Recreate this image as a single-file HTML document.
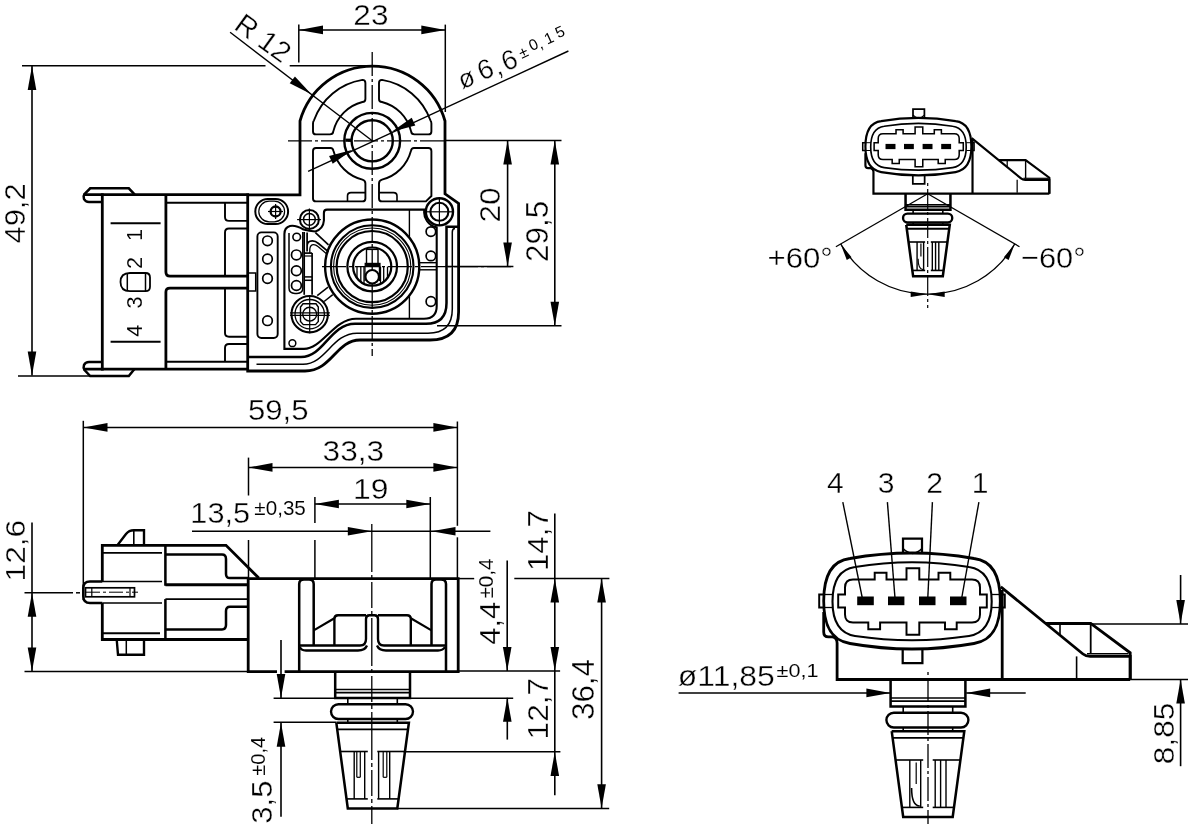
<!DOCTYPE html><html><head><meta charset="utf-8"><style>html,body{margin:0;padding:0;background:#fff;}svg{display:block;will-change:transform;} text{fill:#000;stroke:#fff;}</style></head><body><svg width="1188" height="824" viewBox="0 0 1188 824" font-family="Liberation Sans, sans-serif" stroke="#000" stroke-linecap="butt" fill="none"><rect x="0" y="0" width="1188" height="824" fill="#fff" stroke="none"/><g><line x1="32" y1="66" x2="32" y2="375.5" stroke-width="1.6"/>
<polygon points="32,66 36.3,90 27.7,90" stroke="none" fill="#000"/>
<polygon points="32,375.5 27.7,351.5 36.3,351.5" stroke="none" fill="#000"/>
<line x1="22" y1="65.7" x2="265.5" y2="65.7" stroke-width="1.5"/>
<line x1="289.7" y1="65.7" x2="372" y2="65.7" stroke-width="1.5"/>
<line x1="18" y1="376" x2="92" y2="376" stroke-width="1.5"/>
<g transform="translate(25.1,243.38) rotate(-90) scale(1.03,1)"><text font-size="29.94" stroke-width="0.36">49,2</text></g>
<line x1="299" y1="29.9" x2="445.3" y2="29.9" stroke-width="1.5"/>
<polygon points="299,29.9 323,25.6 323,34.2" stroke="none" fill="#000"/>
<polygon points="445.3,29.9 421.3,34.2 421.3,25.6" stroke="none" fill="#000"/>
<line x1="298.8" y1="24.6" x2="298.8" y2="62.6" stroke-width="1.5"/>
<line x1="445.3" y1="24.6" x2="445.3" y2="112" stroke-width="1.5"/>
<g transform="translate(353.32,25) scale(1.04,1)"><text font-size="30.37" stroke-width="0.36">23</text></g>
<line x1="230.1" y1="32.3" x2="372.2" y2="140.8" stroke-width="1.4"/>
<polygon points="311.4,94.37 289.71,83.23 294.93,76.39" stroke="none" fill="#000"/>
<g transform="translate(232.7,28.2) rotate(35.8) scale(1,1)"><text font-size="28.8" stroke-width="0.35">R 12</text></g>
<line x1="308.1" y1="171.3" x2="568.4" y2="51" stroke-width="1.4"/>
<polygon points="391.72,131.78 411.7,117.81 415.31,125.62" stroke="none" fill="#000"/>
<polygon points="352.68,149.82 332.7,163.79 329.09,155.98" stroke="none" fill="#000"/>
<g transform="translate(466.9,80.1) rotate(-21) scale(1,1)"><text x="-7.93" y="6.84" font-size="26" stroke-width="0.31">ø</text></g>
<g transform="translate(485.3,69.2) rotate(-21) scale(1,1)"><text x="-7.73" y="9.46" font-size="27.5" stroke-width="0.33">6</text></g>
<g transform="translate(500.8,75) rotate(-21) scale(1,1)"><text x="-3.82" y="-0.3" font-size="27.5" stroke-width="0.33">,</text></g>
<g transform="translate(509.4,60) rotate(-21) scale(1,1)"><text x="-7.73" y="9.46" font-size="27.5" stroke-width="0.33">6</text></g>
<g transform="translate(523.6,53.1) rotate(-25) scale(1,1)"><text x="-4.26" y="4.6" font-size="15.5" stroke-width="0">±</text></g>
<g transform="translate(533.4,44.5) rotate(-25) scale(1,1)"><text x="-4.32" y="5.33" font-size="15.5" stroke-width="0">0</text></g>
<g transform="translate(542.2,48.5) rotate(-25) scale(1,1)"><text x="-2.15" y="-0.17" font-size="15.5" stroke-width="0">,</text></g>
<g transform="translate(549.2,38) rotate(-25) scale(1,1)"><text x="-4.53" y="5.33" font-size="15.5" stroke-width="0">1</text></g>
<g transform="translate(560,32) rotate(-25) scale(1,1)"><text x="-4.29" y="5.25" font-size="15.5" stroke-width="0">5</text></g>
<line x1="446" y1="140.6" x2="561.5" y2="140.6" stroke-width="1.5"/>
<line x1="507.6" y1="141" x2="507.6" y2="266.4" stroke-width="1.6"/>
<polygon points="507.6,140.6 511.9,164.6 503.3,164.6" stroke="none" fill="#000"/>
<polygon points="507.6,266.4 503.3,242.4 511.9,242.4" stroke="none" fill="#000"/>
<line x1="445" y1="266.4" x2="513.4" y2="266.4" stroke-width="1.5"/>
<line x1="554.8" y1="141" x2="554.8" y2="325.7" stroke-width="1.6"/>
<polygon points="554.8,140.6 559.1,164.6 550.5,164.6" stroke="none" fill="#000"/>
<polygon points="554.8,325.7 550.5,301.7 559.1,301.7" stroke="none" fill="#000"/>
<line x1="437" y1="325.7" x2="561.5" y2="325.7" stroke-width="1.5"/>
<g transform="translate(500,222.58) rotate(-90) scale(1.06,1)"><text font-size="29.66" stroke-width="0.36">20</text></g>
<g transform="translate(548.1,261.88) rotate(-90) scale(1.03,1)"><text font-size="30.52" stroke-width="0.37">29,5</text></g>
<path d="M247.7,194.8 H300 V121 A75.3,75.3 0 0 1 445,121 V193.8 L458.6,203.4 V312 Q458.6,340 430,340 H360 C336,340 332,371 305,371 H247.7 Z" stroke-width="2.8" fill="none"/>
<path d="M256.5,364.2 H303 C326,364.2 332,333.2 357,333.2 H428 Q452.3,333.2 452.3,309 V232 Q452.3,228.5 455,228.5" stroke-width="1.5" fill="none"/>
<path d="M247.7,357 H301 C324,357 330,323.8 355,323.8 H426 Q446.5,323.8 446.5,303 V226.7 H458.6" stroke-width="2.52" fill="none"/>
<path d="M304,348.9 C322,348.9 334,318.7 356,318.7 H424 Q436.7,318.7 436.7,306 V227.4 A15.5,15.5 0 0 1 424.4,209.6 H327 Q323.9,209.6 323.9,213 V220.5 A12.6,12.6 0 0 1 315.4,231.5 Q309,231 303.5,229.5 Q296,225 290,226 Q284.4,227.5 284.4,234 V348.9 H304" stroke-width="2.1" fill="none"/>
<path d="M362.4,79.9 Q365.4,80 365.4,83 V99 Q365.4,102 362.4,102 A40,40 0 0 0 333.3,131.4 Q333,134.4 330,134.4 H316 Q313,134.4 313,131.4 V123.5 Q313,121.5 314,120.3 A61.7,61.7 0 0 1 362.4,79.9 Z" stroke-width="1.9" fill="none"/>
<path d="M 382,79.9 Q 379,80 379,83 V 99 Q 379,102 382,102 A 40,40 0 0 1 411.1,131.4 Q 411.4,134.4 414.4,134.4 H 428.4 Q 431.4,134.4 431.4,131.4 V 123.5 Q 431.4,121.5 430.4,120.3 A 61.7,61.7 0 0 0 382,79.9 Z" stroke-width="1.9" fill="none"/>
<path d="M316,148 H330.5 Q333,148 333.5,151 A40,40 0 0 0 362.4,179.6 Q365.4,180.5 365.4,183.5 V198.4 Q365.4,201.4 362.4,201.4 H316 Q313,201.4 313,198.4 V151 Q313,148 316,148 Z" stroke-width="1.9" fill="none"/>
<path d="M 428.4,148 H 413.9 Q 411.4,148 410.9,151 A 40,40 0 0 1 382,179.6 Q 379,180.5 379,183.5 V 198.4 Q 379,201.4 382,201.4 H 425.9 L 431.4,196 V 151 Q 431.4,148 428.4,148 Z" stroke-width="1.9" fill="none"/>
<path d="M347.5,201.4 V196 Q347.5,192.6 351,192.6 H365.4" stroke-width="1.6" fill="none"/>
<path d="M379,192.6 H393.5 Q397,192.6 397,196 V201.4" stroke-width="1.6" fill="none"/>
<circle cx="372.2" cy="140.8" r="27.9" stroke-width="2.4" fill="none"/>
<circle cx="372.2" cy="140.8" r="20.6" stroke-width="2.4" fill="none"/>
<rect x="345.3" y="138.6" width="6" height="3.2" rx="0" stroke-width="0" fill="#000" stroke="none"/>
<line x1="372.2" y1="52" x2="372.2" y2="356" stroke-width="1.3" stroke-dasharray="24 3 3 3" stroke-dashoffset="0"/>
<line x1="288" y1="140.8" x2="446" y2="140.8" stroke-width="1.3" stroke-dasharray="24 3 3 3" stroke-dashoffset="0"/>
<line x1="322" y1="266.6" x2="513" y2="266.6" stroke-width="1.3" stroke-dasharray="24 3 3 3" stroke-dashoffset="0"/>
<rect x="255.3" y="199" width="32.8" height="25" rx="12.5" stroke-width="2" fill="none"/>
<rect x="258.8" y="201.2" width="25.8" height="20.6" rx="10.3" stroke-width="1.2" fill="none"/>
<circle cx="275.6" cy="211.5" r="5" stroke-width="2.3" fill="none"/>
<line x1="268" y1="211.5" x2="283" y2="211.5" stroke-width="1.2"/>
<line x1="275.6" y1="204" x2="275.6" y2="219" stroke-width="1.2"/>
<circle cx="309.4" cy="219.4" r="9.5" stroke-width="2" fill="none"/>
<circle cx="309.4" cy="219.4" r="5.9" stroke-width="1.5" fill="none"/>
<line x1="297.1" y1="219.6" x2="320.9" y2="219.6" stroke-width="1.2"/>
<line x1="309.4" y1="208.6" x2="309.4" y2="230.7" stroke-width="1.2"/>
<circle cx="439.4" cy="211.8" r="13.6" stroke-width="2.4" fill="none"/>
<circle cx="439.4" cy="211.8" r="9" stroke-width="2.1" fill="none"/>
<line x1="425.5" y1="211.8" x2="453.5" y2="211.8" stroke-width="1.2"/>
<line x1="439.4" y1="197.5" x2="439.4" y2="226" stroke-width="1.2"/>
<rect x="257.4" y="232.4" width="20.3" height="105.6" rx="4" stroke-width="1.9" fill="none"/>
<circle cx="267.5" cy="240.8" r="4.8" stroke-width="1.7" fill="none"/>
<circle cx="267.5" cy="259" r="4.8" stroke-width="1.7" fill="none"/>
<circle cx="267.5" cy="278.5" r="4.8" stroke-width="1.7" fill="none"/>
<circle cx="267.5" cy="320.7" r="4.8" stroke-width="1.7" fill="none"/>
<path d="M289,233 V288 Q289,293.4 295,293.4 H297 Q302.8,293.4 302.8,288 V232" stroke-width="1.5" fill="none"/>
<circle cx="296.7" cy="237" r="3.8" stroke-width="1.6" fill="none"/>
<circle cx="296.4" cy="254.9" r="4.9" stroke-width="1.7" fill="none"/>
<circle cx="296.4" cy="270.8" r="4.9" stroke-width="1.7" fill="none"/>
<circle cx="296.4" cy="285.5" r="4.9" stroke-width="1.7" fill="none"/>
<line x1="304.2" y1="232" x2="304.2" y2="294.8" stroke-width="1.7"/>
<line x1="312.1" y1="253" x2="312.1" y2="294.8" stroke-width="1.7"/>
<path d="M307.1,232.5 V251.5 M307.1,250 V246 Q307.1,240.8 312.3,240.8 Q315.5,240.8 318.5,243.5 L328.5,251.8" stroke-width="1.7" fill="none"/>
<path d="M309.8,253 V249 Q310.3,244.6 313.6,244.6 Q315.8,244.6 318,246.6 L326.2,253.5" stroke-width="1.3" fill="none"/>
<line x1="315.4" y1="232.7" x2="328.5" y2="244.8" stroke-width="1.7"/>
<line x1="304.2" y1="253.1" x2="312.1" y2="253.1" stroke-width="1.7"/>
<line x1="304.2" y1="256" x2="312.1" y2="256" stroke-width="1.2"/>
<line x1="304.2" y1="276.9" x2="312.1" y2="276.9" stroke-width="1.5"/>
<line x1="304.2" y1="280.3" x2="312.1" y2="280.3" stroke-width="1.5"/>
<circle cx="309.7" cy="314.2" r="18.2" stroke-width="2.1" fill="none"/>
<circle cx="309.7" cy="314.2" r="14.7" stroke-width="1.3" fill="none"/>
<path d="M303,303.8 H316 L318.3,307 V321.5 L315.5,324.6 H303.3 L300.5,321.5 V307 Z" stroke-width="1.4" fill="none"/>
<circle cx="309.7" cy="314.2" r="6.9" stroke-width="1.4" fill="none"/>
<line x1="290.1" y1="312.8" x2="329.9" y2="312.8" stroke-width="1.2"/>
<line x1="290.1" y1="315.3" x2="329.9" y2="315.3" stroke-width="1.2"/>
<line x1="309.7" y1="296.9" x2="309.7" y2="333.2" stroke-width="1.2"/>
<circle cx="292.4" cy="343.2" r="3.4" stroke-width="1.5" fill="none"/>
<line x1="317.2" y1="295.7" x2="328.1" y2="287.1" stroke-width="1.5"/>
<line x1="324.1" y1="301.5" x2="332.8" y2="294.6" stroke-width="1.5"/>
<circle cx="372.2" cy="266.6" r="47.1" stroke-width="2.4" fill="none"/>
<circle cx="372.2" cy="266.6" r="41.3" stroke-width="2.1" fill="none"/>
<circle cx="372.2" cy="266.6" r="38.6" stroke-width="1.1" fill="none"/>
<circle cx="372.2" cy="266.6" r="35.6" stroke-width="2.2" fill="none"/>
<circle cx="372.2" cy="266.6" r="24.8" stroke-width="2.2" fill="none"/>
<circle cx="372.2" cy="266.6" r="19.1" stroke-width="2.2" fill="none"/>
<line x1="357" y1="266.6" x2="357" y2="278.17" stroke-width="1.3"/>
<line x1="360.8" y1="266.6" x2="360.8" y2="281.92" stroke-width="1.3"/>
<line x1="364" y1="266.6" x2="364" y2="283.85" stroke-width="1.3"/>
<line x1="380.5" y1="266.6" x2="380.5" y2="283.8" stroke-width="1.3"/>
<line x1="383.7" y1="266.6" x2="383.7" y2="281.85" stroke-width="1.3"/>
<line x1="387.5" y1="266.6" x2="387.5" y2="278.03" stroke-width="1.3"/>
<rect x="366.5" y="249.4" width="11.5" height="14.6" rx="0" stroke-width="1.4" fill="none"/>
<rect x="365.2" y="263.4" width="14.8" height="3" rx="0" stroke-width="1.2" fill="#000"/>
<circle cx="372.2" cy="276.8" r="6.7" stroke-width="2" fill="#fff"/>
<line x1="365" y1="266.6" x2="365" y2="281" stroke-width="1.2"/>
<line x1="379.4" y1="266.6" x2="379.4" y2="281" stroke-width="1.2"/>
<line x1="409.4" y1="209.3" x2="409.4" y2="238" stroke-width="1.4"/>
<line x1="409.4" y1="295" x2="409.4" y2="318.7" stroke-width="1.4"/>
<line x1="418.5" y1="262.7" x2="436.7" y2="262.7" stroke-width="1.4"/>
<line x1="418.5" y1="269.8" x2="436.7" y2="269.8" stroke-width="1.4"/>
<circle cx="430.9" cy="231.6" r="4.8" stroke-width="1.7" fill="none"/>
<circle cx="430.9" cy="255.9" r="4.8" stroke-width="1.7" fill="none"/>
<circle cx="430.9" cy="301.5" r="4.8" stroke-width="1.7" fill="none"/>
<path d="M134.8,194.6 L128.8,188.3 H90.2 L84.5,194 Q83,196 84,199 Q85.5,202 89,202 H102.3" stroke-width="2.52" fill="none"/>
<path d="M134.3,369.2 L128.8,376 H90.2 L84.5,370 Q83,368 84,365 Q85.5,362 89,362 H102.3" stroke-width="2.52" fill="none"/>
<line x1="83.5" y1="194.7" x2="249" y2="194.7" stroke-width="2.8"/>
<line x1="83.5" y1="369.2" x2="249" y2="369.2" stroke-width="2.8"/>
<line x1="102.3" y1="193.3" x2="102.3" y2="370.6" stroke-width="2.8"/>
<path d="M165.9,194.7 V272 Q165.9,276.2 170,276.2 H247.7" stroke-width="2.8" fill="none"/>
<path d="M247.7,288.2 H170 Q165.9,288.2 165.9,292 V369.2" stroke-width="2.8" fill="none"/>
<line x1="165.9" y1="202.7" x2="247.7" y2="202.7" stroke-width="1.9"/>
<line x1="165.9" y1="361.7" x2="247.7" y2="361.7" stroke-width="1.9"/>
<path d="M247.7,220.9 H229 Q225,220.9 225,217 V202.7" stroke-width="1.9" fill="none"/>
<path d="M247.7,228.5 H229 Q225,228.5 225,232.5 V276.2" stroke-width="1.9" fill="none"/>
<path d="M225,288.2 V333 Q225,336.7 229,336.7 H247.7" stroke-width="1.9" fill="none"/>
<path d="M247.7,344 H229 Q225,344 225,348 V361.7" stroke-width="1.9" fill="none"/>
<line x1="110.6" y1="223.2" x2="160.6" y2="223.2" stroke-width="1.9"/>
<line x1="110.6" y1="341.7" x2="160.6" y2="341.7" stroke-width="1.9"/>
<path d="M130,273 H145.5 Q150,273 150,277.5 V286.7 Q150,291.2 145.5,291.2 H130 Q120.5,291.2 120.5,282.1 Q120.5,273 130,273 Z" stroke-width="1.8" fill="none"/>
<line x1="127.3" y1="273" x2="127.3" y2="291.2" stroke-width="1.5"/>
<line x1="145.5" y1="273" x2="145.5" y2="291.2" stroke-width="1.5"/>
<g transform="translate(142.4,240.99) rotate(-90) scale(1,1)"><text font-size="21.63" stroke-width="0.09">1</text></g>
<g transform="translate(142.4,268.95) rotate(-90) scale(1,1)"><text font-size="21.63" stroke-width="0.09">2</text></g>
<g transform="translate(142.4,308.38) rotate(-90) scale(1,1)"><text font-size="21.63" stroke-width="0.09">3</text></g>
<g transform="translate(142.4,336.68) rotate(-90) scale(1,1)"><text font-size="21.63" stroke-width="0.09">4</text></g>
<rect x="247.7" y="273" width="8" height="18" rx="0" stroke-width="1.5" fill="none"/>
<line x1="83.5" y1="427.4" x2="457.4" y2="427.4" stroke-width="1.5"/>
<polygon points="83.5,427.4 107.5,423.1 107.5,431.7" stroke="none" fill="#000"/>
<polygon points="457.4,427.4 433.4,431.7 433.4,423.1" stroke="none" fill="#000"/>
<line x1="83.3" y1="420.8" x2="83.3" y2="600" stroke-width="1.5"/>
<line x1="457.4" y1="421.5" x2="457.4" y2="525.8" stroke-width="1.5"/>
<line x1="457.4" y1="537.3" x2="457.4" y2="579" stroke-width="1.5"/>
<g transform="translate(247.95,419.8) scale(1.07,1)"><text font-size="29.08" stroke-width="0.35">59,5</text></g>
<line x1="248.5" y1="467.4" x2="457.4" y2="467.4" stroke-width="1.5"/>
<polygon points="248.5,467.4 272.5,463.1 272.5,471.7" stroke="none" fill="#000"/>
<polygon points="457.4,467.4 433.4,471.7 433.4,463.1" stroke="none" fill="#000"/>
<line x1="248.5" y1="457.6" x2="248.5" y2="495.5" stroke-width="1.5"/>
<line x1="248.5" y1="540" x2="248.5" y2="579" stroke-width="1.5"/>
<g transform="translate(322.6,460.9) scale(1.06,1)"><text font-size="29.8" stroke-width="0.36">33,3</text></g>
<line x1="314.9" y1="504" x2="430.3" y2="504" stroke-width="1.5"/>
<polygon points="314.9,504 338.9,499.7 338.9,508.3" stroke="none" fill="#000"/>
<polygon points="430.3,504 406.3,508.3 406.3,499.7" stroke="none" fill="#000"/>
<line x1="314.9" y1="497" x2="314.9" y2="523" stroke-width="1.5"/>
<line x1="314.9" y1="540" x2="314.9" y2="579" stroke-width="1.5"/>
<line x1="430.3" y1="497" x2="430.3" y2="579" stroke-width="1.5"/>
<g transform="translate(353.08,498.6) scale(1.08,1)"><text font-size="29.51" stroke-width="0.35">19</text></g>
<line x1="192" y1="531.3" x2="490.4" y2="531.3" stroke-width="1.5"/>
<polygon points="371.8,531.3 347.8,535.6 347.8,527" stroke="none" fill="#000"/>
<polygon points="431.5,531.3 455.5,527 455.5,535.6" stroke="none" fill="#000"/>
<g transform="translate(190.36,522.9) scale(1.03,1)"><text font-size="29.8" stroke-width="0.36">13,5</text></g>
<g transform="translate(254.34,515.2) scale(1.06,1)"><text font-size="19.48" stroke-width="0.08">±0,35</text></g>
<line x1="371.8" y1="524" x2="371.8" y2="824" stroke-width="1.3" stroke-dasharray="48 3 4 3 26 3 4 3" stroke-dashoffset="0"/>
<line x1="32" y1="522.6" x2="32" y2="671.6" stroke-width="1.6"/>
<polygon points="32,592.8 36.3,616.8 27.7,616.8" stroke="none" fill="#000"/>
<polygon points="32,671.6 27.7,647.6 36.3,647.6" stroke="none" fill="#000"/>
<line x1="24.5" y1="592.8" x2="73" y2="592.8" stroke-width="1.5"/>
<line x1="76" y1="592.8" x2="80" y2="592.8" stroke-width="1.5"/>
<line x1="24.5" y1="671.6" x2="248" y2="671.6" stroke-width="1.5"/>
<g transform="translate(24.6,581.41) rotate(-90) scale(1.14,1)"><text font-size="27.79" stroke-width="0.33">12,6</text></g>
<line x1="281" y1="640" x2="281" y2="698" stroke-width="1.6"/>
<polygon points="281,698 276.7,674 285.3,674" stroke="none" fill="#000"/>
<line x1="281" y1="722.7" x2="281" y2="816.8" stroke-width="1.6"/>
<polygon points="281,722.7 285.3,746.7 276.7,746.7" stroke="none" fill="#000"/>
<line x1="273.6" y1="698.2" x2="513.2" y2="698.2" stroke-width="1.5"/>
<line x1="273.6" y1="722.2" x2="336" y2="722.2" stroke-width="1.5"/>
<g transform="translate(272,823.67) rotate(-90) scale(1.02,1)"><text font-size="30.37" stroke-width="0.36">3,5</text></g>
<g transform="translate(264.5,775.74) rotate(-90) scale(0.99,1)"><text font-size="20.34" stroke-width="0.08">±0,4</text></g>
<line x1="457.4" y1="578.6" x2="474.2" y2="578.6" stroke-width="1.5"/>
<line x1="514.3" y1="578.6" x2="609.4" y2="578.6" stroke-width="1.5"/>
<line x1="458" y1="671" x2="560.1" y2="671" stroke-width="1.5"/>
<line x1="507.2" y1="560.4" x2="507.2" y2="671" stroke-width="1.6"/>
<polygon points="507.2,671 502.9,647 511.5,647" stroke="none" fill="#000"/>
<line x1="507.3" y1="697.8" x2="507.3" y2="739.6" stroke-width="1.6"/>
<polygon points="507.3,697.8 511.6,721.8 503,721.8" stroke="none" fill="#000"/>
<g transform="translate(499.7,644.68) rotate(-90) scale(1.04,1)"><text font-size="29.51" stroke-width="0.35">4,4</text></g>
<g transform="translate(492.5,598.56) rotate(-90) scale(1.03,1)"><text font-size="20.06" stroke-width="0.08">±0,4</text></g>
<line x1="554.8" y1="513.5" x2="554.8" y2="795.3" stroke-width="1.6"/>
<polygon points="554.8,578.6 559.1,602.6 550.5,602.6" stroke="none" fill="#000"/>
<polygon points="554.8,671 550.5,647 559.1,647" stroke="none" fill="#000"/>
<polygon points="554.8,751.9 559.1,775.9 550.5,775.9" stroke="none" fill="#000"/>
<g transform="translate(548,571.08) rotate(-90) scale(1.05,1)"><text font-size="29.8" stroke-width="0.36">14,7</text></g>
<g transform="translate(547.9,739.4) rotate(-90) scale(1.06,1)"><text font-size="29.8" stroke-width="0.36">12,7</text></g>
<line x1="601.6" y1="578.6" x2="601.6" y2="808.3" stroke-width="1.6"/>
<polygon points="601.6,578.6 605.9,602.6 597.3,602.6" stroke="none" fill="#000"/>
<polygon points="601.6,808.3 597.3,784.3 605.9,784.3" stroke="none" fill="#000"/>
<g transform="translate(594.3,720.09) rotate(-90) scale(1.03,1)"><text font-size="30.52" stroke-width="0.37">36,4</text></g>
<line x1="403.5" y1="751.7" x2="560.4" y2="751.7" stroke-width="1.5"/>
<line x1="397" y1="808.4" x2="609.2" y2="808.4" stroke-width="1.5"/>
<path d="M277,671.7 H248.2 V578.7 H458.2 V671.7 H284.6" stroke-width="2.8" fill="none"/>
<path d="M299.2,671.7 V584 Q299.2,579.4 304,579.4 H309 Q313.7,579.4 313.7,584 V645" stroke-width="2.52" fill="none"/>
<path d="M431.5,645 V584 Q431.5,579.4 436,579.4 H441 Q446,579.4 446,584 V671.7" stroke-width="2.52" fill="none"/>
<path d="M299.2,645.5 H360 Q366,645.5 366,639 V619 Q366,615.3 369.5,615.3 H374.5 Q378,615.3 378,619 V639 Q378,645.5 384,645.5 H446" stroke-width="2.38" fill="none"/>
<path d="M300,647 Q301,650.5 306,650.5 H358 Q365,650.5 367,645.5" stroke-width="2.3" fill="none"/>
<path d="M377,645.5 Q379,650.5 386,650.5 H438 Q443,650.5 445,647" stroke-width="2.3" fill="none"/>
<path d="M334.4,645.5 V619 Q334.4,615.3 338,615.3 H366" stroke-width="2.38" fill="none"/>
<path d="M378,615.3 H407 Q410.8,615.3 410.8,619 V645.5" stroke-width="2.38" fill="none"/>
<line x1="313.7" y1="630.4" x2="334.4" y2="618.3" stroke-width="2.24"/>
<line x1="431.5" y1="630.4" x2="410.8" y2="618.3" stroke-width="2.24"/>
<polyline points="335.2,671 335.2,697.9 410,697.9 410,671" stroke-width="2.52" fill="none"/>
<line x1="335.2" y1="689.5" x2="410" y2="689.5" stroke-width="1.6"/>
<line x1="335.2" y1="692.6" x2="410" y2="692.6" stroke-width="1.6"/>
<line x1="347.8" y1="697.9" x2="347.8" y2="704.2" stroke-width="1.6"/>
<line x1="397.3" y1="697.9" x2="397.3" y2="704.2" stroke-width="1.6"/>
<line x1="347.8" y1="719" x2="347.8" y2="722.7" stroke-width="1.6"/>
<line x1="397.3" y1="719" x2="397.3" y2="722.7" stroke-width="1.6"/>
<rect x="331" y="704.2" width="82" height="14.8" rx="7.4" stroke-width="2.38" fill="none"/>
<polyline points="336.3,722.7 408.9,722.7 397.3,808.4 347.8,808.4 336.3,722.7" stroke-width="2.52" fill="none"/>
<line x1="337.5" y1="729.4" x2="407.6" y2="729.4" stroke-width="1.8"/>
<line x1="340.5" y1="751.5" x2="367.8" y2="751.5" stroke-width="1.6"/>
<line x1="377.3" y1="751.5" x2="404.7" y2="751.5" stroke-width="1.6"/>
<line x1="346.8" y1="798.9" x2="367.8" y2="798.9" stroke-width="1.6"/>
<line x1="377.3" y1="798.9" x2="398.3" y2="798.9" stroke-width="1.6"/>
<line x1="354.2" y1="751.5" x2="354.2" y2="798.9" stroke-width="1.4"/>
<line x1="364.7" y1="751.5" x2="364.7" y2="798.9" stroke-width="1.4"/>
<line x1="356.8" y1="751.5" x2="356.8" y2="777.3" stroke-width="1.2"/>
<line x1="360.3" y1="751.5" x2="360.3" y2="777.3" stroke-width="1.2"/>
<line x1="356.8" y1="777.3" x2="360.3" y2="777.3" stroke-width="1.2"/>
<line x1="378.6" y1="751.5" x2="378.6" y2="798.9" stroke-width="1.4"/>
<line x1="389.7" y1="751.5" x2="389.7" y2="798.9" stroke-width="1.4"/>
<line x1="383.2" y1="751.5" x2="383.2" y2="777.3" stroke-width="1.2"/>
<line x1="386.8" y1="751.5" x2="386.8" y2="777.3" stroke-width="1.2"/>
<line x1="383.2" y1="777.3" x2="386.8" y2="777.3" stroke-width="1.2"/>
<path d="M117.4,545.3 L126,534 Q129,530.2 133.8,530.2 H144 V545.3" stroke-width="2.38" fill="none"/>
<line x1="133.8" y1="530.2" x2="133.8" y2="545.3" stroke-width="1.6"/>
<path d="M102.3,582 V545.3 H226 L258.8,578.1" stroke-width="2.8" fill="none"/>
<line x1="102.3" y1="552.9" x2="162" y2="552.9" stroke-width="1.9"/>
<path d="M165.4,545.3 V584.4 H248" stroke-width="2.52" fill="none"/>
<path d="M165.4,554.6 H222 Q226,554.6 226,559 V574 Q226,578.1 230,578.1 H248" stroke-width="2.52" fill="none"/>
<path d="M102.3,581.5 H90 Q83.3,581.5 83.3,588 V596 Q83.3,603 90,603 H102.3" stroke-width="2.52" fill="none"/>
<line x1="102.3" y1="581.5" x2="162" y2="581.5" stroke-width="1.6"/>
<line x1="102.3" y1="603" x2="162" y2="603" stroke-width="1.6"/>
<rect x="85.5" y="587.8" width="49" height="9" rx="0" stroke-width="1.7" fill="none"/>
<line x1="91.8" y1="587.8" x2="91.8" y2="596.8" stroke-width="1.2"/>
<line x1="130" y1="587.8" x2="130" y2="596.8" stroke-width="1.2"/>
<line x1="86" y1="592.2" x2="138" y2="592.2" stroke-width="1" stroke-dasharray="14 3 3 3" stroke-dashoffset="0"/>
<line x1="165.4" y1="585.3" x2="247.5" y2="585.3" stroke-width="1.9"/>
<line x1="165.4" y1="599.1" x2="247.5" y2="599.1" stroke-width="1.9"/>
<path d="M102.3,603 V639.5 H248" stroke-width="2.8" fill="none"/>
<path d="M165.4,599.1 V639.5" stroke-width="2.52" fill="none"/>
<path d="M248,606.7 H230 Q226,606.7 226,611 V625 Q226,629.4 222,629.4 H165.4" stroke-width="2.52" fill="none"/>
<line x1="102.3" y1="633.2" x2="160" y2="633.2" stroke-width="1.9"/>
<path d="M116.7,639.5 L118,654.7 H144 V639.5" stroke-width="2.38" fill="none"/>
<line x1="126.3" y1="639.5" x2="126.3" y2="654.7" stroke-width="1.5"/>
<path d="M 850,558.5 Q 912,547.5 974,558.5 C 995,561 1000.3,580 1000.3,601 C 1000.3,622 995,640 974,643.5 Q 912,654.5 850,643.5 C 829,640 823.7,622 823.7,601 C 823.7,580 829,561 850,558.5 Z" stroke-width="2.8" fill="none"/>
<path d="M 855,567 Q 912,557.5 969,567 C 987,569.5 991.7,585 991.7,601.5 C 991.7,618 987,633 969,636 Q 912,644.5 855,636 C 837,633 832.5,618 832.5,601.5 C 832.5,585 837,569.5 855,567 Z" stroke-width="2.1" fill="none"/>
<path d="M 853,579.5 H 874.7 V 572.8 H 886.5 V 579.5 H 906.5 V 568.2 H 919.3 V 579.5 H 938.5 V 572.8 H 950.3 V 579.5 H 972 Q 980,579.5 980,587.5 V 594.6 H 986.8 V 607.4 H 980 V 614.5 Q 980,622.5 972,622.5 H 956.7 V 629.3 H 945 V 622.5 H 919.3 V 634.7 H 906.5 V 622.5 H 880.1 V 629.3 H 868.3 V 622.5 H 853 Q 845,622.5 845,614.5 V 607.4 H 838.2 V 594.6 H 845 V 587.5 Q 845,579.5 853,579.5 Z" stroke-width="1.96" fill="none"/>
<rect x="857.2" y="596.5" width="16.6" height="8.7" rx="0" stroke-width="0" fill="#000" stroke="none"/>
<rect x="888" y="596.5" width="16.4" height="8.7" rx="0" stroke-width="0" fill="#000" stroke="none"/>
<rect x="919" y="596.5" width="16.5" height="8.7" rx="0" stroke-width="0" fill="#000" stroke="none"/>
<rect x="950" y="596.5" width="16.5" height="8.7" rx="0" stroke-width="0" fill="#000" stroke="none"/>
<path d="M 903,553 V 538.6 H 922 V 553" stroke-width="2.24" fill="none"/>
<path d="M 903,548.5 Q 912.5,558 922,548.5" stroke-width="1.68" fill="none"/>
<path d="M 902.7,648.5 V 663.1 H 922.4 V 648.5" stroke-width="2.24" fill="none"/>
<path d="M 823.7,594.5 H 819.2 V 607.5 H 823.7" stroke-width="1.96" fill="none"/>
<path d="M 1000.3,594.5 H 1004.8 V 607.5 H 1000.3" stroke-width="1.96" fill="none"/>
<line x1="823.7" y1="594.5" x2="833" y2="594.5" stroke-width="1.3"/>
<line x1="823.7" y1="607.5" x2="833" y2="607.5" stroke-width="1.3"/>
<line x1="991.7" y1="594.5" x2="1000.3" y2="594.5" stroke-width="1.3"/>
<line x1="991.7" y1="607.5" x2="1000.3" y2="607.5" stroke-width="1.3"/>
<path d="M 823.7,612 V 632 Q 823.7,636.9 828.5,636.9 H 832.5 Q 837.1,638 837.1,643 V 679.5 H 1130.2" stroke-width="2.8" fill="none"/>
<path d="M 1002.2,590 V 679.5" stroke-width="2.8" fill="none"/>
<path d="M 1000.8,586.8 L 1083,654 Q 1086,656.4 1090,656.4 H 1130.2 V 679.5" stroke-width="2.8" fill="none"/>
<path d="M 1046,623.5 H 1090.7 L 1130.2,652.8 V 679.5" stroke-width="2.8" fill="none"/>
<line x1="1090.7" y1="623.5" x2="1090.7" y2="653.8" stroke-width="1.8"/>
<line x1="1087" y1="653.8" x2="1128.5" y2="653.8" stroke-width="1.5"/>
<line x1="1060" y1="624.5" x2="1060" y2="634.5" stroke-width="1.6"/>
<line x1="1076.6" y1="656.4" x2="1076.6" y2="678" stroke-width="1.6"/>
<polyline points="890.6,679.5 890.6,706.4 965.4,706.4 965.4,679.5" stroke-width="2.52" fill="none"/>
<line x1="890.6" y1="698" x2="965.4" y2="698" stroke-width="1.6"/>
<line x1="890.6" y1="701.1" x2="965.4" y2="701.1" stroke-width="1.6"/>
<line x1="903.2" y1="706.4" x2="903.2" y2="712.7" stroke-width="1.6"/>
<line x1="952.7" y1="706.4" x2="952.7" y2="712.7" stroke-width="1.6"/>
<line x1="903.2" y1="727.5" x2="903.2" y2="731.2" stroke-width="1.6"/>
<line x1="952.7" y1="727.5" x2="952.7" y2="731.2" stroke-width="1.6"/>
<rect x="886.4" y="712.7" width="82" height="14.8" rx="7.4" stroke-width="2.38" fill="none"/>
<polyline points="891.7,731.2 964.3,731.2 952.7,816.9 903.2,816.9 891.7,731.2" stroke-width="2.52" fill="none"/>
<line x1="892.9" y1="737.9" x2="963" y2="737.9" stroke-width="1.8"/>
<line x1="895.9" y1="760" x2="923.2" y2="760" stroke-width="1.6"/>
<line x1="932.7" y1="760" x2="960.1" y2="760" stroke-width="1.6"/>
<line x1="902.2" y1="807.4" x2="923.2" y2="807.4" stroke-width="1.6"/>
<line x1="932.7" y1="807.4" x2="953.7" y2="807.4" stroke-width="1.6"/>
<line x1="909.8" y1="760" x2="909.8" y2="807.4" stroke-width="1.4"/>
<line x1="920.7" y1="760" x2="920.7" y2="807.4" stroke-width="1.4"/>
<line x1="916.2" y1="762.5" x2="916.2" y2="784" stroke-width="1.2"/>
<path d="M911.6,788 Q911.6,806 919.8,806" stroke-width="1.6" fill="none"/>
<line x1="935.2" y1="760" x2="935.2" y2="807.4" stroke-width="1.4"/>
<line x1="940.6" y1="760" x2="940.6" y2="807.4" stroke-width="1.4"/>
<line x1="946" y1="760" x2="946" y2="807.4" stroke-width="1.4"/>
<line x1="842.8" y1="502.1" x2="862.3" y2="598" stroke-width="1.4"/>
<line x1="887.4" y1="502.1" x2="895" y2="598" stroke-width="1.4"/>
<line x1="932.4" y1="502.1" x2="927.8" y2="598" stroke-width="1.4"/>
<line x1="978.9" y1="502.1" x2="961.7" y2="598" stroke-width="1.4"/>
<g transform="translate(827.04,492.8) scale(1,1)"><text font-size="30.09" stroke-width="0.36">4</text></g>
<g transform="translate(877.86,492.8) scale(1,1)"><text font-size="30.09" stroke-width="0.36">3</text></g>
<g transform="translate(926.3,492.8) scale(1,1)"><text font-size="30.09" stroke-width="0.36">2</text></g>
<g transform="translate(971.81,492.8) scale(1,1)"><text font-size="30.09" stroke-width="0.36">1</text></g>
<line x1="928" y1="672" x2="928" y2="824" stroke-width="1.3" stroke-dasharray="3 3 24 3" stroke-dashoffset="0"/>
<line x1="678.6" y1="692.9" x2="890.4" y2="692.9" stroke-width="1.5"/>
<polygon points="890.4,692.9 866.4,697.2 866.4,688.6" stroke="none" fill="#000"/>
<line x1="966.2" y1="692.9" x2="1025.7" y2="692.9" stroke-width="1.5"/>
<polygon points="966.2,692.9 990.2,688.6 990.2,697.2" stroke="none" fill="#000"/>
<g transform="translate(677.84,685.8) scale(1.07,1)"><text font-size="29.8" stroke-width="0.36">ø11,85</text></g>
<g transform="translate(776.61,677.2) scale(1.17,1)"><text font-size="18.48" stroke-width="0.07">±0,1</text></g>
<line x1="1090.7" y1="624" x2="1188" y2="624" stroke-width="1.5"/>
<line x1="1130.2" y1="679.6" x2="1188" y2="679.6" stroke-width="1.5"/>
<line x1="1180.6" y1="575" x2="1180.6" y2="624" stroke-width="1.6"/>
<polygon points="1180.6,624 1176.3,600 1184.9,600" stroke="none" fill="#000"/>
<line x1="1180.6" y1="679.6" x2="1180.6" y2="766.2" stroke-width="1.6"/>
<polygon points="1180.6,679.6 1184.9,703.6 1176.3,703.6" stroke="none" fill="#000"/>
<g transform="translate(1173.9,764.29) rotate(-90) scale(1.07,1)"><text font-size="29.66" stroke-width="0.36">8,85</text></g>
<path d="M 881.2,121.1 Q 918.4,114.5 955.6,121.1 C 968.2,122.6 971.38,134 971.38,146.6 C 971.38,159.2 968.2,170 955.6,172.1 Q 918.4,178.7 881.2,172.1 C 868.6,170 865.42,159.2 865.42,146.6 C 865.42,134 868.6,122.6 881.2,121.1 Z" stroke-width="2.18" fill="none"/>
<path d="M 884.2,126.2 Q 918.4,120.5 952.6,126.2 C 963.4,127.7 966.22,137 966.22,146.9 C 966.22,156.8 963.4,165.8 952.6,167.6 Q 918.4,172.7 884.2,167.6 C 873.4,165.8 870.7,156.8 870.7,146.9 C 870.7,137 873.4,127.7 884.2,126.2 Z" stroke-width="1.64" fill="none"/>
<path d="M 883,133.7 H 896.02 V 129.68 H 903.1 V 133.7 H 915.1 V 126.92 H 922.78 V 133.7 H 934.3 V 129.68 H 941.38 V 133.7 H 954.4 Q 959.2,133.7 959.2,138.5 V 142.76 H 963.28 V 150.44 H 959.2 V 154.7 Q 959.2,159.5 954.4,159.5 H 945.22 V 163.58 H 938.2 V 159.5 H 922.78 V 166.82 H 915.1 V 159.5 H 899.26 V 163.58 H 892.18 V 159.5 H 883 Q 878.2,159.5 878.2,154.7 V 150.44 H 874.12 V 142.76 H 878.2 V 138.5 Q 878.2,133.7 883,133.7 Z" stroke-width="1.53" fill="none"/>
<rect x="885.52" y="143.9" width="9.96" height="5.22" rx="0" stroke-width="0" fill="#000" stroke="none"/>
<rect x="904" y="143.9" width="9.84" height="5.22" rx="0" stroke-width="0" fill="#000" stroke="none"/>
<rect x="922.6" y="143.9" width="9.9" height="5.22" rx="0" stroke-width="0" fill="#000" stroke="none"/>
<rect x="941.2" y="143.9" width="9.9" height="5.22" rx="0" stroke-width="0" fill="#000" stroke="none"/>
<path d="M 913,117.8 V 109.16 H 924.4 V 117.8" stroke-width="1.75" fill="none"/>
<path d="M 913,115.1 Q 918.7,120.8 924.4,115.1" stroke-width="1.31" fill="none"/>
<path d="M 912.82,175.1 V 183.86 H 924.64 V 175.1" stroke-width="1.75" fill="none"/>
<path d="M 865.42,142.7 H 862.72 V 150.5 H 865.42" stroke-width="1.53" fill="none"/>
<path d="M 971.38,142.7 H 974.08 V 150.5 H 971.38" stroke-width="1.53" fill="none"/>
<line x1="865.42" y1="142.7" x2="871" y2="142.7" stroke-width="1.01"/>
<line x1="865.42" y1="150.5" x2="871" y2="150.5" stroke-width="1.01"/>
<line x1="966.22" y1="142.7" x2="971.38" y2="142.7" stroke-width="1.01"/>
<line x1="966.22" y1="150.5" x2="971.38" y2="150.5" stroke-width="1.01"/>
<path d="M 865.42,153.2 V 165.2 Q 865.42,168.14 868.3,168.14 H 870.7 Q 873.46,168.8 873.46,171.8 V 193.7 H 1049.32" stroke-width="2.18" fill="none"/>
<path d="M 972.52,140 V 193.7" stroke-width="2.18" fill="none"/>
<path d="M 971.68,138.08 L 1021,178.4 Q 1022.8,179.84 1025.2,179.84 H 1049.32 V 193.7" stroke-width="2.18" fill="none"/>
<path d="M 998.8,160.1 H 1025.62 L 1049.32,177.68 V 193.7" stroke-width="2.18" fill="none"/>
<line x1="1025.62" y1="160.1" x2="1025.62" y2="178.28" stroke-width="1.4"/>
<line x1="1023.4" y1="178.28" x2="1048.3" y2="178.28" stroke-width="1.17"/>
<line x1="1007.2" y1="160.7" x2="1007.2" y2="166.7" stroke-width="1.25"/>
<line x1="1017.16" y1="179.84" x2="1017.16" y2="192.8" stroke-width="1.25"/>
<polyline points="905.56,193.7 905.56,209.84 950.44,209.84 950.44,193.7" stroke-width="2.52" fill="none"/>
<line x1="905.56" y1="204.8" x2="950.44" y2="204.8" stroke-width="1.6"/>
<line x1="905.56" y1="206.66" x2="950.44" y2="206.66" stroke-width="1.6"/>
<line x1="913.12" y1="209.84" x2="913.12" y2="213.62" stroke-width="1.6"/>
<line x1="942.82" y1="209.84" x2="942.82" y2="213.62" stroke-width="1.6"/>
<line x1="913.12" y1="222.5" x2="913.12" y2="224.72" stroke-width="1.6"/>
<line x1="942.82" y1="222.5" x2="942.82" y2="224.72" stroke-width="1.6"/>
<rect x="903.04" y="213.62" width="49.2" height="8.88" rx="4.44" stroke-width="2.38" fill="none"/>
<polyline points="906.22,224.72 949.78,224.72 942.82,276.14 913.12,276.14 906.22,224.72" stroke-width="2.52" fill="none"/>
<line x1="906.94" y1="228.74" x2="949" y2="228.74" stroke-width="1.8"/>
<line x1="908.74" y1="242" x2="925.12" y2="242" stroke-width="1.6"/>
<line x1="930.82" y1="242" x2="947.26" y2="242" stroke-width="1.6"/>
<line x1="912.52" y1="270.44" x2="925.12" y2="270.44" stroke-width="1.6"/>
<line x1="930.82" y1="270.44" x2="943.42" y2="270.44" stroke-width="1.6"/>
<line x1="917.08" y1="242" x2="917.08" y2="270.44" stroke-width="1.4"/>
<line x1="923.62" y1="242" x2="923.62" y2="270.44" stroke-width="1.4"/>
<line x1="920.92" y1="243.5" x2="920.92" y2="256.4" stroke-width="1.2"/>
<path d="M918.16,258.8 Q918.16,269.6 923.08,269.6" stroke-width="1.08" fill="none"/>
<line x1="932.32" y1="242" x2="932.32" y2="270.44" stroke-width="1.4"/>
<line x1="935.56" y1="242" x2="935.56" y2="270.44" stroke-width="1.4"/>
<line x1="938.8" y1="242" x2="938.8" y2="270.44" stroke-width="1.4"/>
<line x1="927.7" y1="183" x2="927.7" y2="308" stroke-width="1.2" stroke-dasharray="3 3 20 3" stroke-dashoffset="0"/>
<line x1="927.7" y1="193.7" x2="835.9" y2="246.7" stroke-width="1.3"/>
<path d="M927.7,294.2 A100.5,100.5 0 0 1 840.66,243.95" stroke-width="1.3" fill="none"/>
<polygon points="927.7,294.2 910.7,296.95 910.7,291.45" stroke="none" fill="#000"/>
<polygon points="840.66,243.95 851.55,257.3 846.78,260.05" stroke="none" fill="#000"/>
<line x1="927.7" y1="193.7" x2="1019.5" y2="246.7" stroke-width="1.3"/>
<path d="M927.7,294.2 A100.5,100.5 0 0 0 1014.74,243.95" stroke-width="1.3" fill="none"/>
<polygon points="927.7,294.2 944.7,291.45 944.7,296.95" stroke="none" fill="#000"/>
<polygon points="1014.74,243.95 1008.62,260.05 1003.85,257.3" stroke="none" fill="#000"/>
<g transform="translate(767.5,268) scale(1.03,1)"><text font-size="30.23" stroke-width="0.36">+60°</text></g>
<g transform="translate(1020.95,268) scale(1.02,1)"><text font-size="30.23" stroke-width="0.36">−60°</text></g></g></svg></body></html>
